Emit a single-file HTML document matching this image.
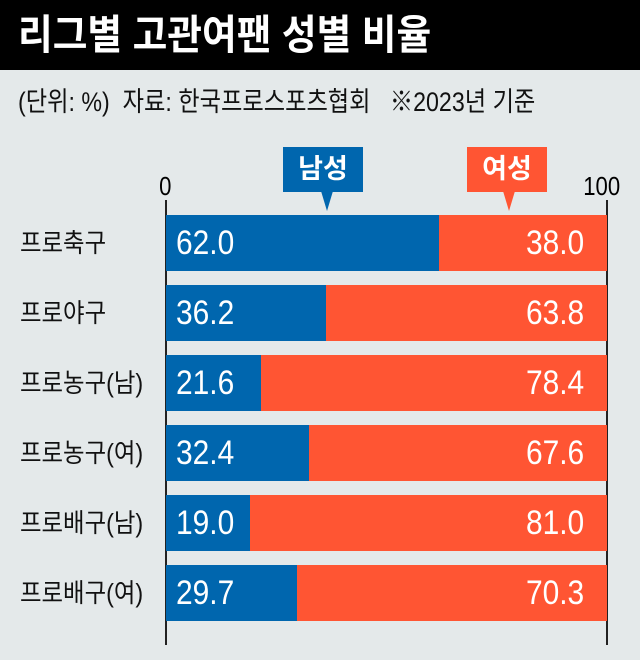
<!DOCTYPE html><html><head><meta charset="utf-8"><style>
body{margin:0;width:640px;height:660px;background:#e4e9ea;position:relative;overflow:hidden;font-family:"Liberation Sans","Noto Sans CJK KR",sans-serif}
.t{position:absolute;white-space:nowrap}
.bar{position:absolute;height:56px}
.v{position:absolute;color:#fff;font-size:34px;line-height:56px;transform:scaleX(.88)}
.lab{position:absolute;left:20px;font-size:26px;line-height:56px;color:#111;transform:scaleX(.9);transform-origin:left;white-space:nowrap}
</style></head><body>
<div style="position:absolute;left:0;top:0;width:640px;height:70px;background:#000"></div>
<div class="t" style="left:18px;top:12px;color:#fff;font-size:41px;font-weight:bold;line-height:46px;transform:scaleX(.92);transform-origin:left">리그별 고관여팬 성별 비율</div>
<div class="t" style="left:18px;top:86px;color:#111;font-size:27px;line-height:32px;transform:scaleX(.86);transform-origin:left">(단위: %)&nbsp; 자료: 한국프로스포츠협회 &nbsp; ※2023년 기준</div>
<div class="t" style="left:158px;top:171px;font-size:26px;transform:scaleX(.85)">0</div>
<div class="t" style="left:580px;top:171px;font-size:26px;transform:scaleX(.85)">100</div>
<div style="position:absolute;left:165px;top:200px;width:2px;height:445px;background:#222"></div>
<div style="position:absolute;left:606px;top:200px;width:2px;height:445px;background:#222"></div>
<div style="position:absolute;left:283px;top:147px;width:80px;height:45px;background:#0066ae;color:#fff;font-size:27px;font-weight:bold;text-align:center;line-height:45px">남성</div>
<div style="position:absolute;left:321px;top:191px;width:0;height:0;border-left:6px solid transparent;border-right:6px solid transparent;border-top:20px solid #0066ae"></div>
<div style="position:absolute;left:467px;top:147px;width:80px;height:45px;background:#ff5533;color:#fff;font-size:27px;font-weight:bold;text-align:center;line-height:45px">여성</div>
<div style="position:absolute;left:503px;top:191px;width:0;height:0;border-left:6px solid transparent;border-right:6px solid transparent;border-top:20px solid #ff5533"></div>
<div id="rows"></div>
<script>
var d=[["프로축구",62.0],["프로야구",36.2],["프로농구(남)",21.6],["프로농구(여)",32.4],["프로배구(남)",19.0],["프로배구(여)",29.7]];
var h="";d.forEach(function(r,i){var y=215+i*70,w=441*r[1]/100;
h+='<div class="lab" style="top:'+y+'px">'+r[0]+'</div>';
h+='<div class="bar" style="left:166px;top:'+y+'px;width:'+w+'px;background:#0066ae"></div>';
h+='<div class="bar" style="left:'+(166+w)+'px;top:'+y+'px;width:'+(441-w)+'px;background:#ff5533"></div>';
h+='<div class="v" style="left:176px;top:'+y+'px;transform-origin:left">'+r[1].toFixed(1)+'</div>';
h+='<div class="v" style="right:56px;top:'+y+'px;transform-origin:right">'+(100-r[1]).toFixed(1)+'</div>';});
document.getElementById("rows").innerHTML=h;
</script>
</body></html>
